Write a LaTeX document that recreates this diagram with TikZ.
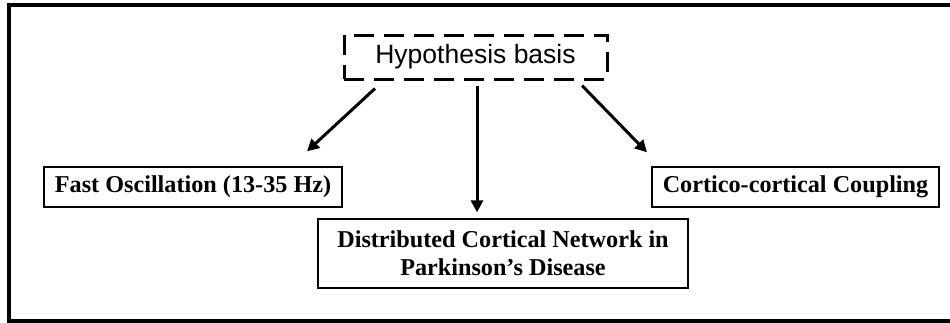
\documentclass[tikz,border=0pt]{standalone}
\usepackage{fontspec}
\setmainfont{Liberation Serif}
\newfontfamily\hypfont{Liberation Sans}
\usetikzlibrary{arrows.meta}
\tikzset{
  box/.style={draw, line width=1.3pt, inner sep=0pt, align=center,
    font=\fontsize{24.2}{28}\selectfont\bfseries},
  hypbox/.style={draw, line width=3pt, dash pattern=on 20pt off 10pt,
    inner sep=0pt, font=\hypfont\fontsize{26.5}{30}\selectfont},
  arr/.style={line width=3pt, -{Triangle[length=12pt,width=12pt]}}
}
\begin{document}
\begin{tikzpicture}[x=1pt,y=-1pt]
\useasboundingbox (0,0) rectangle (950,322);
\clip (0,0) rectangle (950,322);
\draw[line width=3.5pt] (9,5) rectangle (970,321);
\node[hypbox, minimum width=263pt, minimum height=44pt] (hyp) at (475.5,57) {Hypothesis basis};
\node[box, minimum width=298pt, minimum height=40pt] (fast) at (193,187) {Fast Oscillation (13-35 Hz)};
\node[box, minimum width=287pt, minimum height=40pt] (cort) at (795.5,187) {Cortico-cortical Coupling};
\node[box, minimum width=370pt, minimum height=69pt] (dist) at (503,253.5) {Distributed Cortical Network in\\Parkinson’s Disease};
\draw[arr] ([xshift=-100.5pt,yshift=-8pt]hyp.south) -- ([xshift=114pt,yshift=15pt]fast.north);
\draw[arr] ([xshift=1.5pt,yshift=-5pt]hyp.south) -- ([xshift=-26pt,yshift=6pt]dist.north);
\draw[arr] ([xshift=106.5pt,yshift=-5pt]hyp.south) -- ([xshift=-148.5pt,yshift=14pt]cort.north);
\end{tikzpicture}
\end{document}
